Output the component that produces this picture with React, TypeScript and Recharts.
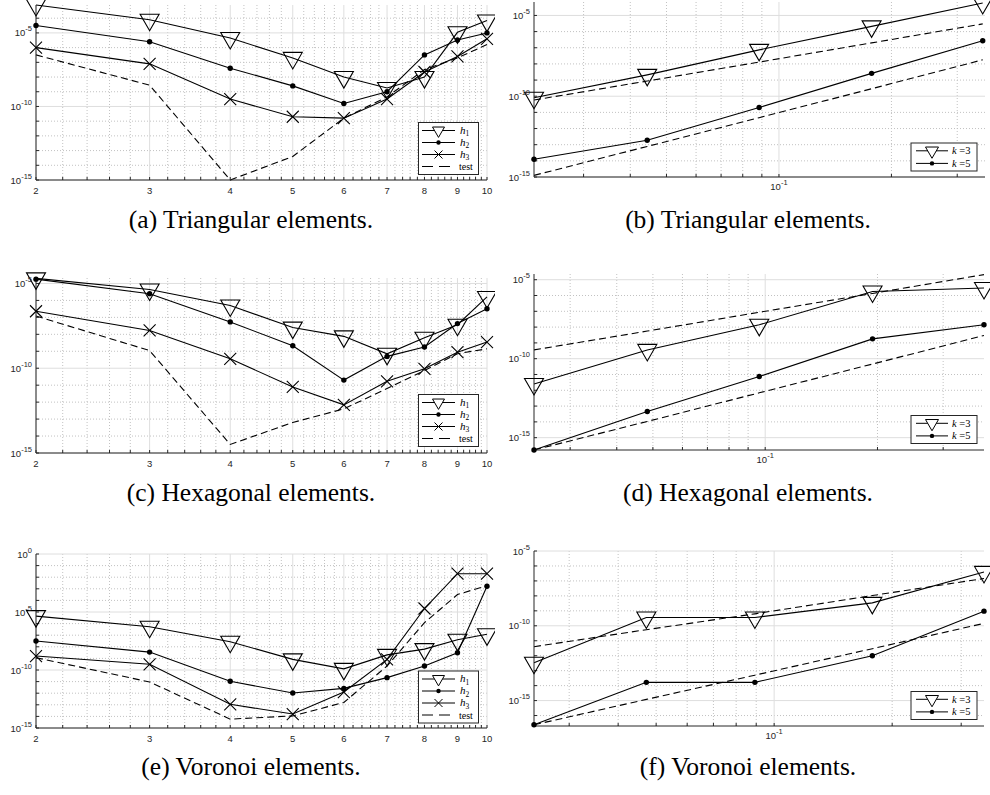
import React from 'react';
import { LineChart, Line, XAxis, YAxis, CartesianGrid } from 'recharts';

// polynomial degree (left column) and mesh sizes (right column)
const polyDegrees = [2, 3, 4, 5, 6, 7, 8, 9, 10];

// (a) triangular, error vs degree
const triH1 = [7.9e-4, 7.9e-5, 4.5e-6, 2.0e-7, 1.0e-8, 1.8e-9, 1.0e-8, 1.1e-5, 6.9e-5];
const triH2 = [3.2e-5, 2.5e-6, 4.0e-8, 2.5e-9, 1.6e-10, 1.0e-9, 3.2e-7, 3.3e-6, 1.0e-5];
const triH3 = [1.0e-6, 7.9e-8, 3.2e-10, 2.0e-11, 1.6e-11, 3.2e-10, 2.2e-8, 2.5e-7, 4.0e-6];
const triTest = [3.2e-7, 2.8e-9, 1.0e-15, 4.0e-14, 1.6e-11, 4.5e-10, 3.2e-8, 2.0e-7, 1.6e-6];

// (b) triangular, error vs h
const triMeshSizes = [0.0221, 0.0444, 0.0885, 0.177, 0.351];
const triK3 = [8.1e-11, 2.1e-9, 7.4e-8, 2.1e-6, 5.9e-5];
const triK3Ref = [5.8e-11, 8.7e-10, 1.3e-8, 2.0e-7, 3.0e-6];
const triK5 = [1.26e-14, 1.9e-13, 2.0e-11, 2.6e-9, 2.7e-7];
const triK5Ref = [1.26e-15, 7.8e-14, 4.7e-12, 2.9e-10, 1.8e-8];

// (c) hexagonal, error vs degree
const hexH1 = [2.0e-5, 4.4e-6, 5.0e-7, 2.5e-8, 7.6e-9, 7.1e-10, 6.3e-9, 3.7e-8, 1.6e-6];
const hexH2 = [1.8e-5, 2.5e-6, 5.4e-8, 2.1e-9, 2.0e-11, 5.0e-10, 1.8e-9, 4.3e-8, 3.2e-7];
const hexH3 = [2.3e-7, 1.7e-8, 3.6e-10, 7.9e-12, 6.9e-13, 1.7e-11, 9.3e-11, 8.9e-10, 3.5e-9];
const hexTest = [1.2e-7, 1.1e-9, 3.2e-15, 6.3e-14, 4.0e-13, 6.3e-12, 7.4e-11, 7.2e-10, 1.4e-9];

// (d) hexagonal, error vs h
const hexMeshSizes = [0.024, 0.0483, 0.0964, 0.194, 0.386];
const hexK3 = [2.5e-12, 3.6e-10, 1.4e-8, 1.8e-6, 3.0e-6];
const hexK3Ref = [3.6e-10, 5.6e-9, 8.7e-8, 1.35e-6, 2.1e-5];
const hexK5 = [1.66e-16, 4.5e-14, 7.4e-12, 1.8e-9, 1.4e-8];
const hexK5Ref = [1.66e-16, 1.07e-14, 6.9e-13, 4.6e-11, 2.95e-9];

// (e) voronoi, error vs degree
const vorH1 = [4.4e-6, 5.4e-7, 2.75e-8, 8.3e-10, 1.26e-10, 2.0e-9, 6.3e-9, 4.0e-8, 1.2e-7];
const vorH2 = [3.2e-8, 3.5e-9, 1.07e-11, 1.05e-12, 2.6e-12, 2.2e-11, 2.2e-10, 3.1e-9, 1.66e-3];
const vorH3 = [1.6e-9, 3.1e-10, 1.1e-13, 1.6e-14, 1.26e-12, 8.3e-10, 2.0e-5, 2.0e-2, 2.0e-2];
const vorTest = [1.15e-9, 9.3e-12, 5.8e-15, 1.1e-14, 1.6e-13, 2.2e-10, 1.2e-6, 3.2e-4, 1.9e-3];

// (f) voronoi, error vs h
const vorMeshSizes = [0.0244, 0.0472, 0.0893, 0.178, 0.343];
const vorK3 = [3.4e-13, 3.6e-10, 3.6e-10, 3.4e-9, 4.0e-7];
const vorK3Ref = [4.0e-12, 5.5e-11, 6.3e-10, 1.05e-8, 1.45e-7];
const vorK5 = [2.4e-17, 1.66e-14, 1.66e-14, 1.0e-12, 9.5e-10];
const vorK5Ref = [2.4e-17, 1.2e-15, 5.0e-14, 2.95e-12, 1.45e-10];

// axis ticks
const degreeMajor = [2, 3, 4, 5, 6, 7, 8, 9, 10];
const degreeMinor = [
  2.2, 2.4, 2.6, 2.8, 3.2, 3.4, 3.6, 3.8, 4.2, 4.4, 4.6, 4.8, 5.2, 5.4, 5.6, 5.8,
  6.2, 6.4, 6.6, 6.8, 7.2, 7.4, 7.6, 7.8, 8.2, 8.4, 8.6, 8.8, 9.2, 9.4, 9.6, 9.8,
];
const meshMajor = [0.1];
const meshMinor = [0.03, 0.04, 0.05, 0.06, 0.07, 0.08, 0.09, 0.2, 0.3];

const yMajor = [1e-15, 1e-10, 1e-5];
const yMajorE = [1e-15, 1e-10, 1e-5, 1];
const yMinorBase = [1e-14, 1e-13, 1e-12, 1e-11, 1e-9, 1e-8, 1e-7, 1e-6];
const yMinorA = [...yMinorBase, 1e-4];
const yMinorE = [...yMinorBase, 1e-4, 1e-3, 1e-2, 1e-1];
const yMinorF = [1e-16, ...yMinorBase];

const TICK_FONT = '"Liberation Sans", Arial, sans-serif';
const SERIF = '"Liberation Serif", "Times New Roman", serif';
const AXIS = '#262626';

const degreeRows = (h1: number[], h2: number[], h3: number[], test: number[]) =>
  polyDegrees.map((n, i) => ({ n, h1: h1[i], h2: h2[i], h3: h3[i], test: test[i] }));

const meshRows = (h: number[], k3: number[], k3ref: number[], k5: number[], k5ref: number[]) =>
  h.map((x, i) => ({ h: x, k3: k3[i], k3ref: k3ref[i], k5: k5[i], k5ref: k5ref[i] }));

const triangleDot = (p: any) => {
  const { cx, cy, index } = p;
  if (cx == null || cy == null) return <g key={`t${index}`} />;
  return (
    <path
      key={`t${index}`}
      d={`M${cx - 9.5},${cy - 5.5}L${cx + 9.5},${cy - 5.5}L${cx},${cy + 11}Z`}
      fill="none"
      stroke="#000"
      strokeWidth={1.1}
    />
  );
};

const circleDot = (p: any) => {
  const { cx, cy, index } = p;
  if (cx == null || cy == null) return <g key={`c${index}`} />;
  return <circle key={`c${index}`} cx={cx} cy={cy} r={2.7} fill="#000" />;
};

const crossDot = (p: any) => {
  const { cx, cy, index } = p;
  if (cx == null || cy == null) return <g key={`x${index}`} />;
  return (
    <path
      key={`x${index}`}
      d={`M${cx - 6},${cy - 6}L${cx + 6},${cy + 6}M${cx - 6},${cy + 6}L${cx + 6},${cy - 6}`}
      stroke="#000"
      strokeWidth={1.1}
    />
  );
};

const dotFor = (m?: string) =>
  m === 'tri' ? triangleDot : m === 'dot' ? circleDot : m === 'cross' ? crossDot : false;

const YTick = (props: any) => {
  const { x, y, payload } = props;
  const e = Math.round(Math.log10(payload.value));
  if (e % 5 !== 0) return <g />;
  return (
    <text x={x - 4} y={y + 3.5} textAnchor="end" fontSize={9.5} fill={AXIS} fontFamily={TICK_FONT}>
      10
      <tspan fontSize={7.5} dy={-5}>
        {e}
      </tspan>
    </text>
  );
};

const DegreeTick = (props: any) => {
  const { x, y, payload } = props;
  if (!degreeMajor.includes(payload.value)) return <g />;
  return (
    <text x={x} y={y + 14} textAnchor="middle" fontSize={9.5} fill={AXIS} fontFamily={TICK_FONT}>
      {payload.value}
    </text>
  );
};

const MeshTick = (props: any) => {
  const { x, y, payload } = props;
  if (!meshMajor.includes(payload.value)) return <g />;
  return (
    <text x={x} y={y + 13} textAnchor="middle" fontSize={9.5} fill={AXIS} fontFamily={TICK_FONT}>
      10
      <tspan fontSize={7.5} dy={-5}>
        -1
      </tspan>
    </text>
  );
};

type Series = { key: string; marker?: string; dashed?: boolean };

const degreeSeries: Series[] = [
  { key: 'h1', marker: 'tri' },
  { key: 'h2', marker: 'dot' },
  { key: 'h3', marker: 'cross' },
  { key: 'test', dashed: true },
];

const meshSeries: Series[] = [
  { key: 'k3ref', dashed: true },
  { key: 'k5ref', dashed: true },
  { key: 'k3', marker: 'tri' },
  { key: 'k5', marker: 'dot' },
];

type PanelProps = {
  left: number;
  top: number;
  height: number;
  marginTop: number;
  marginRight: number;
  yWidth: number;
  data: any[];
  xKey: string;
  xDomain: [number, number];
  xMajor: number[];
  xMinor: number[];
  xTick: any;
  yDomain: [number, number];
  yMajorVals: number[];
  yMinorVals: number[];
  series: Series[];
};

const Panel = (p: PanelProps) => {
  const xTicks = [...p.xMajor, ...p.xMinor].sort((a, b) => a - b);
  const yTicks = [...p.yMajorVals, ...p.yMinorVals].sort((a, b) => a - b);
  return (
    <div style={{ position: 'absolute', left: p.left, top: p.top }}>
      <LineChart
        width={495}
        height={p.height}
        data={p.data}
        margin={{ top: p.marginTop, right: p.marginRight, bottom: 0, left: 0 }}
      >
        <CartesianGrid
          horizontalValues={p.yMinorVals}
          verticalValues={p.xMinor}
          stroke="#c2c2c2"
          strokeDasharray="1 2"
        />
        <CartesianGrid
          horizontalValues={p.yMajorVals}
          verticalValues={p.xMajor}
          stroke="#dedede"
        />
        <XAxis
          dataKey={p.xKey}
          type="number"
          scale="log"
          domain={p.xDomain}
          ticks={xTicks}
          interval={0}
          tick={p.xTick}
          tickSize={-3}
          tickMargin={3}
          height={20}
          stroke={AXIS}
        />
        <XAxis
          xAxisId="top"
          orientation="top"
          dataKey={p.xKey}
          type="number"
          scale="log"
          domain={p.xDomain}
          ticks={xTicks}
          interval={0}
          tick={false}
          tickSize={-3}
          height={0}
          stroke={AXIS}
        />
        <YAxis
          type="number"
          scale="log"
          domain={p.yDomain}
          ticks={yTicks}
          interval={0}
          tick={YTick}
          tickSize={-3}
          tickMargin={3}
          width={p.yWidth}
          stroke={AXIS}
        />
        <YAxis
          yAxisId="right"
          orientation="right"
          type="number"
          scale="log"
          domain={p.yDomain}
          ticks={yTicks}
          interval={0}
          tick={false}
          tickSize={-3}
          width={0}
          stroke={AXIS}
        />
        {p.series.map((s) => (
          <Line
            key={s.key}
            dataKey={s.key}
            type="linear"
            stroke="#000"
            strokeWidth={1.1}
            strokeDasharray={s.dashed ? '7 4' : undefined}
            dot={dotFor(s.marker) as any}
            activeDot={false}
            isAnimationActive={false}
          />
        ))}
      </LineChart>
    </div>
  );
};

const LegendMarker = ({ kind, cx, cy, w }: { kind: string; cx: number; cy: number; w: number }) => {
  if (kind === 'tri')
    return (
      <path
        d={`M${cx - w},${cy - w * 0.58}L${cx + w},${cy - w * 0.58}L${cx},${cy + w * 1.15}Z`}
        fill="#fff"
        stroke="#000"
      />
    );
  if (kind === 'dot') return <circle cx={cx} cy={cy} r={2.2} fill="#000" />;
  if (kind === 'cross')
    return (
      <path d={`M${cx - 4},${cy - 4}L${cx + 4},${cy + 4}M${cx - 4},${cy + 4}L${cx + 4},${cy - 4}`} stroke="#000" />
    );
  return null;
};

const DegreeLegend = ({ top }: { top: number }) => {
  const entries = [
    { kind: 'tri', sub: '1' },
    { kind: 'dot', sub: '2' },
    { kind: 'cross', sub: '3' },
    { kind: 'dash', sub: '' },
  ];
  return (
    <g>
      <rect x={418.5} y={top} width={60} height={52} fill="#fff" stroke={AXIS} />
      {entries.map((e, i) => {
        const cy = top + 8 + i * 12;
        return (
          <g key={i}>
            <line x1={422} x2={455} y1={cy} y2={cy} stroke="#000" strokeDasharray={e.kind === 'dash' ? '11 6' : undefined} />
            <LegendMarker kind={e.kind} cx={438.5} cy={cy} w={6} />
            {e.kind === 'dash' ? (
              <text x={459} y={cy + 3.5} fontSize={10} fontFamily={SERIF} fill="#000">
                test
              </text>
            ) : (
              <text x={460} y={cy + 3} fontSize={11} fontFamily={SERIF} fill="#000">
                <tspan fontStyle="italic">h</tspan>
                <tspan fontSize={7.5} dy={2.5}>
                  {e.sub}
                </tspan>
              </text>
            )}
          </g>
        );
      })}
    </g>
  );
};

const MeshLegend = ({ top }: { top: number }) => {
  const entries = [
    { kind: 'tri', k: '3' },
    { kind: 'dot', k: '5' },
  ];
  return (
    <g>
      <rect x={911} y={top} width={66} height={28} fill="#fff" stroke={AXIS} />
      {entries.map((e, i) => {
        const cy = top + 7.8 + i * 12.6;
        return (
          <g key={i}>
            <line x1={916} x2={948} y1={cy} y2={cy} stroke="#000" />
            <LegendMarker kind={e.kind} cx={932} cy={cy} w={6.5} />
            <text x={952} y={cy + 3.5} fontSize={10.5} fontFamily={SERIF} fill="#000">
              <tspan fontStyle="italic">k</tspan> ={e.k}
            </text>
          </g>
        );
      })}
    </g>
  );
};

const captions = [
  { x: 251, y: 228, text: '(a) Triangular elements.' },
  { x: 748, y: 228, text: '(b) Triangular elements.' },
  { x: 251, y: 501, text: '(c) Hexagonal elements.' },
  { x: 748, y: 501, text: '(d) Hexagonal elements.' },
  { x: 251, y: 775, text: '(e) Voronoi elements.' },
  { x: 748, y: 775, text: '(f) Voronoi elements.' },
];

export default function App() {
  return (
    <div style={{ position: 'absolute', left: 0, top: 0, width: 990, height: 795, background: '#fff', overflow: 'hidden' }}>
      <Panel
        left={0} top={0} height={200} marginTop={5} marginRight={8} yWidth={36}
        data={degreeRows(triH1, triH2, triH3, triTest)} xKey="n" xDomain={[2, 10]}
        xMajor={degreeMajor} xMinor={degreeMinor} xTick={DegreeTick}
        yDomain={[1e-15, 7.9e-4]} yMajorVals={yMajor} yMinorVals={yMinorA} series={degreeSeries}
      />
      <Panel
        left={495} top={0} height={197} marginTop={2} marginRight={5} yWidth={39}
        data={meshRows(triMeshSizes, triK3, triK3Ref, triK5, triK5Ref)} xKey="h" xDomain={[0.0221, 0.356]}
        xMajor={meshMajor} xMinor={meshMinor} xTick={MeshTick}
        yDomain={[1e-15, 6.8e-5]} yMajorVals={yMajor} yMinorVals={yMinorBase} series={meshSeries}
      />
      <Panel
        left={0} top={255} height={218} marginTop={23} marginRight={8} yWidth={36}
        data={degreeRows(hexH1, hexH2, hexH3, hexTest)} xKey="n" xDomain={[2, 10]}
        xMajor={degreeMajor} xMinor={degreeMinor} xTick={DegreeTick}
        yDomain={[1e-15, 2.1e-5]} yMajorVals={yMajor} yMinorVals={yMinorBase} series={degreeSeries}
      />
      <Panel
        left={495} top={255} height={215} marginTop={19} marginRight={6} yWidth={39}
        data={meshRows(hexMeshSizes, hexK3, hexK3Ref, hexK5, hexK5Ref)} xKey="h" xDomain={[0.024, 0.386]}
        xMajor={meshMajor} xMinor={meshMinor} xTick={MeshTick}
        yDomain={[1.66e-16, 2.3e-5]} yMajorVals={yMajor} yMinorVals={yMinorBase} series={meshSeries}
      />
      <Panel
        left={0} top={530} height={218} marginTop={24} marginRight={8} yWidth={36}
        data={degreeRows(vorH1, vorH2, vorH3, vorTest)} xKey="n" xDomain={[2, 10]}
        xMajor={degreeMajor} xMinor={degreeMinor} xTick={DegreeTick}
        yDomain={[1e-15, 1]} yMajorVals={yMajorE} yMinorVals={yMinorE} series={degreeSeries}
      />
      <Panel
        left={495} top={530} height={216} marginTop={21} marginRight={6} yWidth={39}
        data={meshRows(vorMeshSizes, vorK3, vorK3Ref, vorK5, vorK5Ref)} xKey="h" xDomain={[0.0244, 0.343]}
        xMajor={meshMajor} xMinor={meshMinor} xTick={MeshTick}
        yDomain={[2e-17, 1e-5]} yMajorVals={yMajor} yMinorVals={yMinorF} series={meshSeries}
      />
      <svg width={990} height={795} style={{ position: 'absolute', left: 0, top: 0, pointerEvents: 'none' }}>
        <DegreeLegend top={122.5} />
        <DegreeLegend top={394.5} />
        <DegreeLegend top={671} />
        <MeshLegend top={143} />
        <MeshLegend top={415.5} />
        <MeshLegend top={691.5} />
        {captions.map((c) => (
          <text key={c.text} x={c.x} y={c.y} textAnchor="middle" fontSize={25.5} fontFamily={SERIF} fill="#000">
            {c.text}
          </text>
        ))}
      </svg>
    </div>
  );
}
